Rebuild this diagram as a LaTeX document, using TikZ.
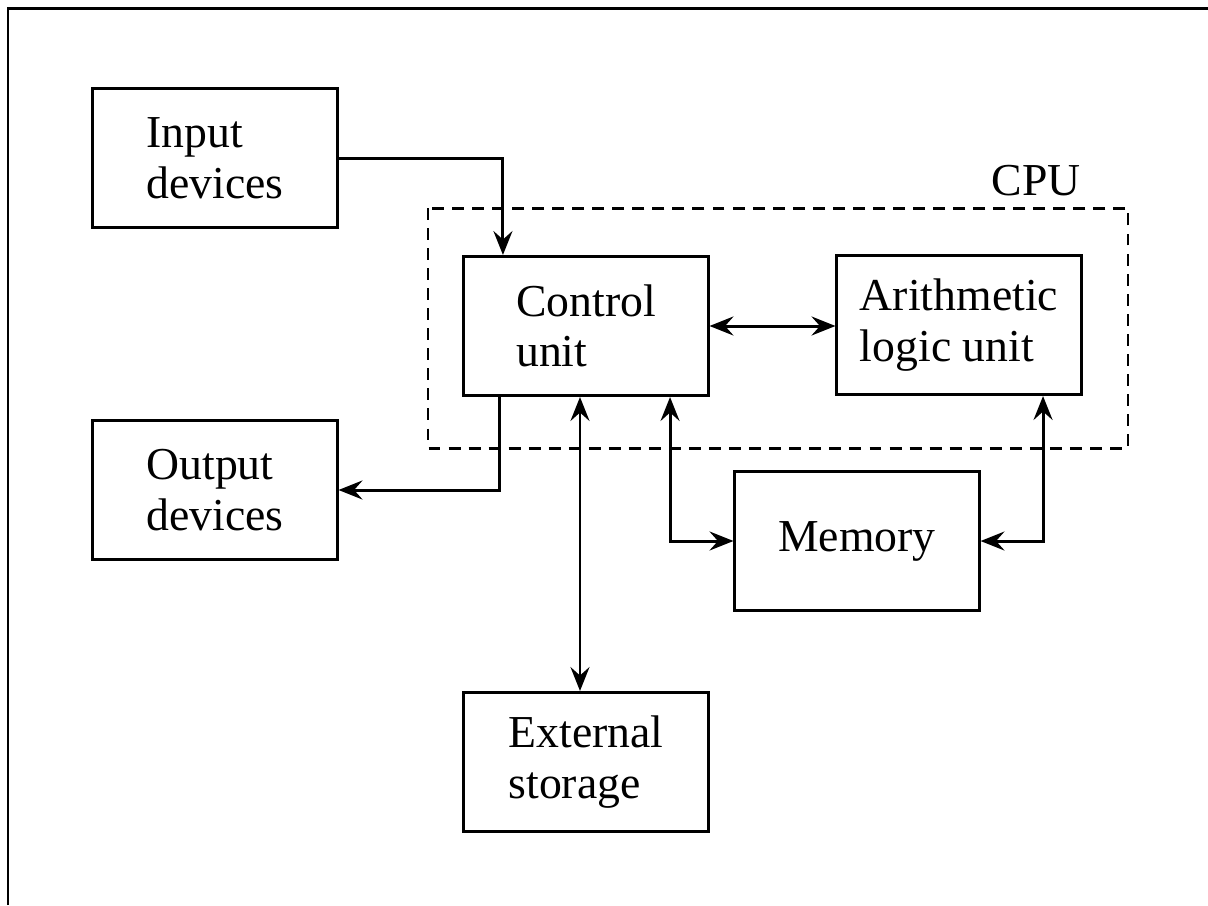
\documentclass[tikz,border=0pt]{standalone}
\usepackage{fontspec}
\setmainfont{Liberation Serif}
\usetikzlibrary{arrows.meta}

\begin{document}
\begin{tikzpicture}[x=0.01cm, y=-0.01cm, line width=0.85pt,
  every node/.style={font=\fontsize{13pt}{14.4pt}\selectfont},
  unitbox/.style={draw, minimum width=2.44cm, minimum height=1.39cm, align=left},
  link/.style={-{Stealth[length=6.8pt,width=5.4pt,inset=2.4pt]}},
  twoway/.style={{Stealth[length=6.8pt,width=5.4pt,inset=2.4pt]}-{Stealth[length=6.8pt,width=5.4pt,inset=2.4pt]}}]
  \useasboundingbox (0,0) rectangle (1208,905);
  \draw (8,905) -- (8,8) -- (1208,8);

  % the CPU
  \draw [dashed, dash pattern=on 3.4pt off 2.3pt] (428,208) rectangle (1128,448);
  \node (cpu) at (1036,181) {CPU};

  \node [unitbox] (input) at (215,158) {Input\\devices};
  \node [unitbox] (output) at (215,490) {Output\\devices};
  \node [unitbox] (control) at (586,326) {Control\\unit};
  \node [unitbox] (alu) at (959,325) {Arithmetic\\logic unit};
  \node [unitbox] (memory) at (857,541) {Memory};
  \node [unitbox] (storage) at (586,762) {External\\storage};

  \draw [link] (input.east) -| ([xshift=-0.83cm]control.north);
  \draw [link] ([xshift=-0.86cm]control.south) |- (output.east);
  \draw [twoway] (control.east) -- (control.east -| alu.west);
  \draw [twoway] ([xshift=-0.06cm]control.south) -- ([xshift=-0.06cm]storage.north);
  \draw [twoway] ([xshift=0.84cm]control.south) |- (memory.west);
  \draw [twoway] ([xshift=0.84cm]alu.south) |- (memory.east);
\end{tikzpicture}
\end{document}
